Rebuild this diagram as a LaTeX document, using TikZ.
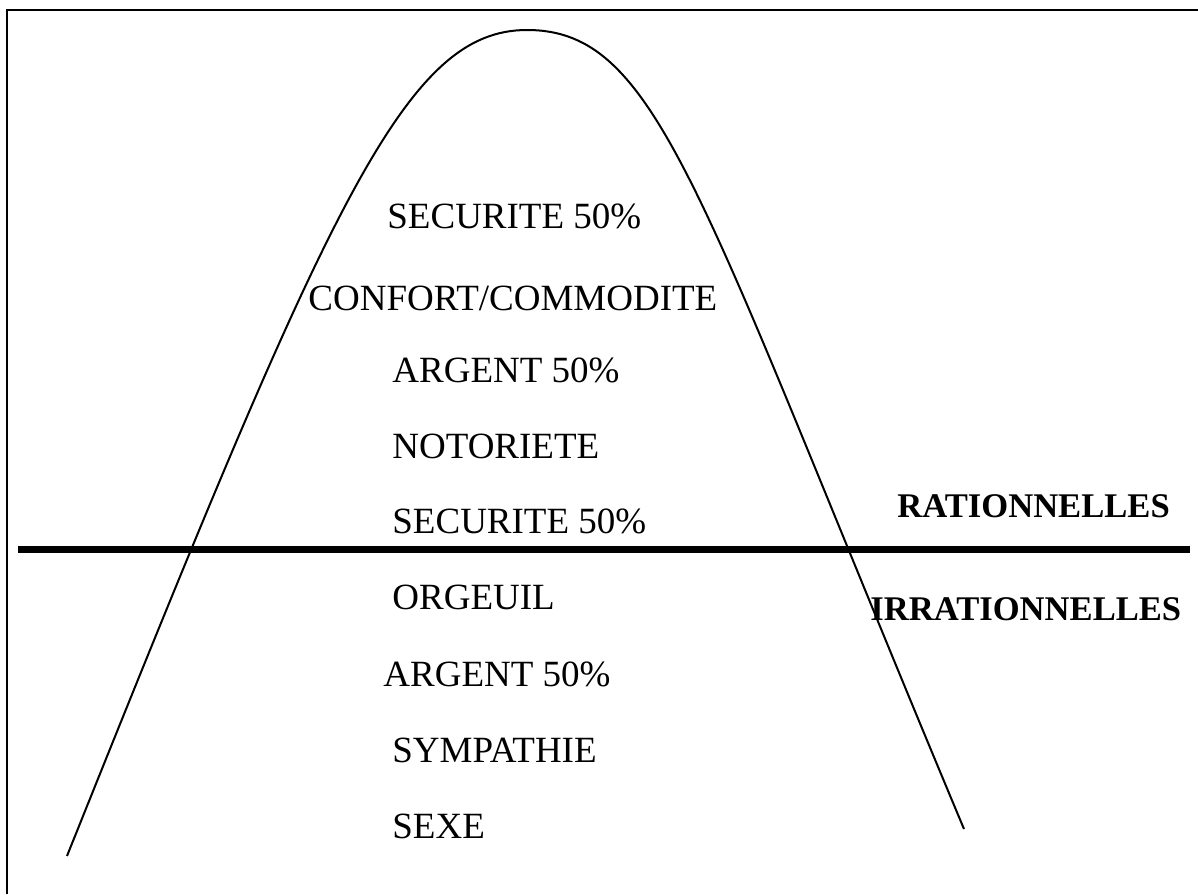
\documentclass[tikz,border=0pt]{standalone}
\usepackage{fontspec}
\setmainfont{Liberation Serif}
\begin{document}
\begin{tikzpicture}[x=0.5pt,y=-0.5pt,
  lbl/.style={anchor=base west, inner sep=0pt, font=\fontsize{18.5}{22}\selectfont},
  blbl/.style={anchor=base west, inner sep=0pt, font=\fontsize{17.3}{21}\selectfont\bfseries},
  frameline/.style={line width=1.4pt},
  bell/.style={line width=1pt},
  divider/.style={line width=3.5pt}]
\useasboundingbox (0,0) rectangle (1198,894);
% frame (top and left edges visible)
\draw[frameline] (7,894) -- (7,10) -- (1198,10);
% bell curve
\coordinate (lend) at (67,856);
\coordinate (apex) at (527,30);
\coordinate (rend) at (964,829);
\draw[bell] (lend) .. controls (330,200) and (405,30) .. (apex)
                   .. controls (660,30) and (699,197) .. (rend);
% divider
\coordinate (dl) at (18,549);
\coordinate (dr) at (1190,549);
\draw[divider] (dl) -- (dr);
% labels
\node[lbl] (s1) at (387,228) {SECURITE 50\%};
\node[lbl] (c1) at (308,310) {CONFORT/COMMODITE};
\node[lbl] (a1) at (392,382) {ARGENT 50\%};
\node[lbl] (n1) at (392,458) {NOTORIETE};
\node[lbl] (s2) at (392,533) {SECURITE 50\%};
\node[lbl] (o1) at (392,609) {ORGEUIL};
\node[lbl] (a2) at (383,686) {ARGENT 50\%};
\node[lbl] (y1) at (392,762) {SYMPATHIE};
\node[lbl] (x1) at (392,838) {SEXE};
\node[blbl] (rat) at (897,517) {RATIONNELLES};
\node[blbl] (irr) at (870,620) {IRRATIONNELLES};
\end{tikzpicture}
\end{document}
